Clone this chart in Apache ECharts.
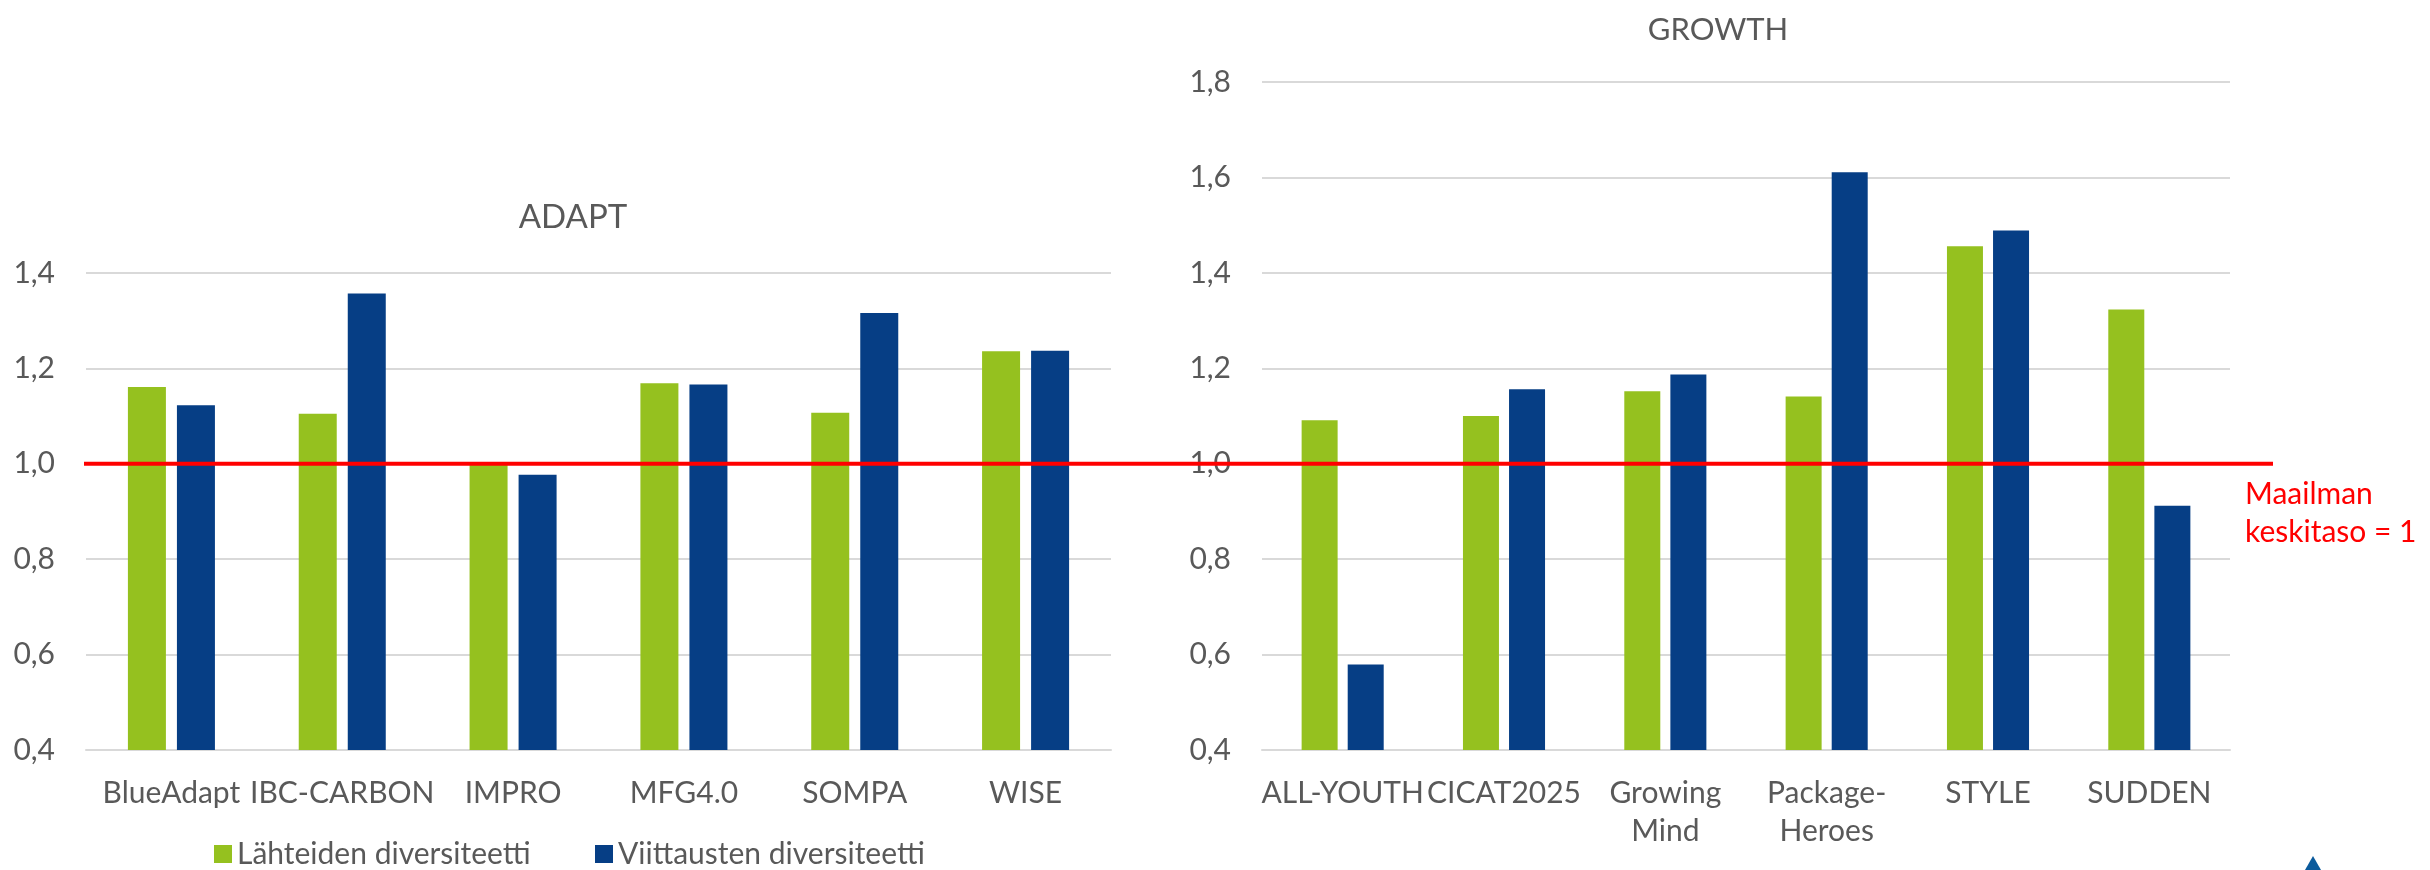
<!DOCTYPE html>
<html><head><meta charset="utf-8">
<script src="https://cdn.jsdelivr.net/npm/echarts@6/dist/echarts.min.js"></script>
<style>html,body{margin:0;padding:0;background:#fff}#c{width:2430px;height:870px}</style>
</head><body><div id="c"></div>
<script>
// ---- data ----
const adaptTitle = 'ADAPT';
const growthTitle = 'GROWTH';
const adaptCategories = ['BlueAdapt', 'IBC-CARBON', 'IMPRO', 'MFG4.0', 'SOMPA', 'WISE'];
const adaptSources = [1.161, 1.105, 0.998, 1.169, 1.107, 1.236];
const adaptCitations = [1.123, 1.357, 0.977, 1.166, 1.316, 1.237];
const growthCategories = ['ALL-YOUTH', 'CICAT2025', 'Growing\nMind', 'Package-\nHeroes', 'STYLE', 'SUDDEN'];
const growthSources = [1.091, 1.100, 1.152, 1.141, 1.456, 1.323];
const growthCitations = [0.579, 1.156, 1.187, 1.611, 1.489, 0.912];
const seriesNames = ['Lähteiden diversiteetti', 'Viittausten diversiteetti'];
const adaptAxis = { min: 0.4, max: 1.4, step: 0.2 };
const growthAxis = { min: 0.4, max: 1.8, step: 0.2 };
const worldAverage = 1.0;
const worldAverageLabel = 'Maailman\nkeskitaso = 1';

// ---- style ----
const FONT = 'Lato';
const GREEN = '#95c11f';
const BLUE = '#063e85';
const GRAY = '#595959';
const GRID = '#d9d9d9';
const fmt = v => v.toFixed(1).replace('.', ',');

const chart = echarts.init(document.getElementById('c'));

function xAxisCfg(idx, cats) {
  return {
    type: 'category', gridIndex: idx, data: cats,
    axisLine: { show: true, lineStyle: { color: GRID, width: 2 } },
    axisTick: { show: false },
    axisLabel: { interval: 0, color: GRAY, fontFamily: FONT, fontSize: 30, lineHeight: 38, margin: 24 }
  };
}
function yAxisCfg(idx, ax) {
  return {
    type: 'value', gridIndex: idx, min: ax.min, max: ax.max, interval: ax.step,
    axisLine: { show: false }, axisTick: { show: false },
    splitLine: { lineStyle: { color: GRID, width: 2 } },
    axisLabel: { color: GRAY, fontFamily: FONT, fontSize: 30, margin: 31, formatter: fmt }
  };
}
function legendCfg(name, left) {
  return {
    data: [name], left: left, top: 838, padding: 0, icon: 'rect', itemWidth: 18, itemHeight: 18, itemGap: 0,
    textStyle: { color: GRAY, fontFamily: FONT, fontSize: 30, lineHeight: 32 }
  };
}

chart.setOption({
  animation: false,
  backgroundColor: '#fff',
  title: [
    { text: adaptTitle, left: 568, top: 192, textAlign: 'center',
      textStyle: { color: GRAY, fontFamily: FONT, fontSize: 33, fontWeight: 'normal', lineHeight: 40 } },
    { text: growthTitle, left: 1713, top: 5, textAlign: 'center',
      textStyle: { color: GRAY, fontFamily: FONT, fontSize: 31, fontWeight: 'normal', lineHeight: 40 } }
  ],
  legend: [legendCfg(seriesNames[0], 214), legendCfg(seriesNames[1], 595)],
  grid: [
    { left: 86, right: 2430 - 1111, top: 273, bottom: 120 },
    { left: 1262, right: 2430 - 2230, top: 82, bottom: 120 }
  ],
  xAxis: [xAxisCfg(0, adaptCategories), xAxisCfg(1, growthCategories)],
  yAxis: [yAxisCfg(0, adaptAxis), yAxisCfg(1, growthAxis)],
  series: [
    { name: seriesNames[0], type: 'bar', xAxisIndex: 0, yAxisIndex: 0, data: adaptSources,
      barWidth: 38, barGap: '29%', itemStyle: { color: GREEN } },
    { name: seriesNames[1], type: 'bar', xAxisIndex: 0, yAxisIndex: 0, data: adaptCitations,
      barWidth: 38, barGap: '29%', itemStyle: { color: BLUE } },
    { name: seriesNames[0], type: 'bar', xAxisIndex: 1, yAxisIndex: 1, data: growthSources,
      barWidth: 36, barGap: '28%', itemStyle: { color: GREEN } },
    { name: seriesNames[1], type: 'bar', xAxisIndex: 1, yAxisIndex: 1, data: growthCitations,
      barWidth: 36, barGap: '28%', itemStyle: { color: BLUE } }
  ]
});

// reference line at world average, positioned through the library's own scale
const yRef = chart.convertToPixel({ yAxisIndex: 1 }, worldAverage);
chart.setOption({
  graphic: [
    { type: 'line', z: 100, shape: { x1: 84, y1: yRef, x2: 2273, y2: yRef },
      style: { stroke: '#ff0000', lineWidth: 4 } },
    { type: 'text', z: 100, left: 2245, top: yRef + 12,
      style: { text: worldAverageLabel, fill: '#ff0000', font: '30px ' + FONT, lineHeight: 38 } },
    { type: 'polygon', z: 100, shape: { points: [[2305, 870], [2313, 856], [2321, 870]] },
      style: { fill: '#0a5a9c' } }
  ]
});
</script>
</body></html>
